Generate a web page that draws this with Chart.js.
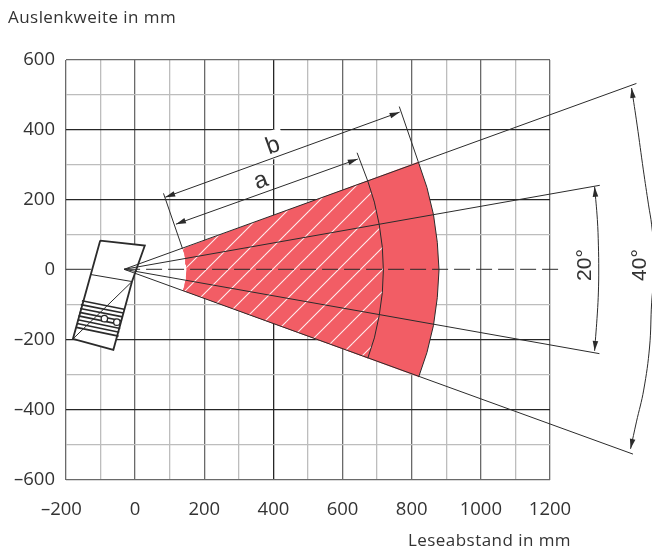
<!DOCTYPE html>
<html>
<head>
<meta charset="utf-8">
<style>
  html, body { margin: 0; padding: 0; background: #fff; }
  canvas { display: block; }
</style>
<script src="https://cdn.jsdelivr.net/npm/chart.js@4"></script>
</head>
<body>
<canvas id="chart" width="652" height="553"></canvas>
<script>
// --- AXES ---
const xTicks = [-200, 0, 200, 400, 600, 800, 1000, 1200];
const xTickLabels = ['–200\u2002', '0', '200', '400', '600', '800', '1000', '1200'];
const yTicks = [-600, -400, -200, 0, 200, 400, 600];
const yTickLabels = ['–600', '–400', '–200', '0', '200', '400', '600'];

// --- READING FIELD (top to bottom along each arc) ---
const outerArcX = [819, 844, 863, 874, 879, 874, 863, 844, 820];
const outerArcY = [309, 236, 158, 79, 0, -79, -158, -236, -306];
const midArcX = [673, 692, 706, 715, 718, 715, 706, 692, 673];
const midArcY = [254, 194, 130, 65, 0, -65, -130, -194, -252];
const innerArcX = [137, 142, 145, 147, 149, 147, 145, 142, 138];
const innerArcY = [61, 47, 31, 16, 0, -16, -31, -47, -59];

// --- OPENING ANGLE LINES ---
const apexX = -32;
const fan40X = [1450, apexX, 1440];
const fan40Y = [533, 2, -526];
const fan20X = [1344, apexX, 1343];
const fan20Y = [242, 2, -239];
const centerX = [apexX, 1230];
const centerY = [2, 2];
const zeroLineX = [-200, -128];
const zeroLineY = [2, 2];

// --- DIMENSIONS a, b ---
const dimLinesX = [82, 137, null, 764, 819, null, 642, 673, null, 87, 765, null, 118, 644];
const dimLinesY = [219, 61, null, 467, 309, null, 335, 254, null, 208, 451, null, 131, 317];
const arc20X = [1329, 1337, 1340, 1341, 1340, 1337, 1329];
const arc20Y = [238, 144, 71, 0, -63, -123, -231];
const arc40X = [1436, 1452, 1470, 1485, 1494, 1503, 1494, 1488, 1471, 1450, 1433];
const arc40Y = [520, 414, 286, 186, 129, 23, -94, -220, -343, -434, -511];

// arrow tips and the screen direction they point at
const arrowX = [87, 765, 118, 644, 1329, 1329, 1436, 1433];
const arrowY = [208, 451, 131, 317, 238, -231, 520, -511];
const arrowDeg = [160, -20, 160, -20, -95, 95, -98, 102];

// --- SENSOR SKETCH ---
const deviceX = [-101, 28, -9, -63, -180, -101];
const deviceY = [84, 70, -33, -228, -197, 84];
const deviceLinesX = [-128, -9, null, -180, -9];
const deviceLinesY = [-13, -33, null, -197, -33];
const ribsX = [-154, -32, null, -157, -34, null, -159, -36, null, -161, -39, null, -164, -41, null, -166, -43, null, -168, -46, null, -170, -48];
const ribsY = [-88, -112, null, -99, -123, null, -110, -134, null, -121, -145, null, -131, -156, null, -142, -167, null, -153, -178, null, -164, -189];
const boltsX = [-89, -53];
const boltsY = [-139, -149];

const RED = '#f25d65';
const INK = '#2b2b2b';
const FONT = '"Open Sans", sans-serif';
const SKETCH_FONT = '"Liberation Sans", sans-serif';

function pts(xs, ys) {
    return xs.map((x, i) => ({ x: x, y: ys[i] }));
}

function line(xs, ys, extra) {
    return Object.assign({
        data: pts(xs, ys),
        showLine: true,
        borderColor: INK,
        borderWidth: 1,
        pointRadius: 0,
        fill: false,
        clip: false
    }, extra);
}

function polygon(xs, ys, color) {
    return line(xs, ys, { borderWidth: 0, backgroundColor: color, fill: 'shape' });
}

// white diagonal stripes of the hatched zone
function makeHatch() {
    const tile = document.createElement('canvas');
    tile.width = 22;
    tile.height = 22;
    const c = tile.getContext('2d');
    c.fillStyle = RED;
    c.fillRect(0, 0, 22, 22);
    c.strokeStyle = '#fff0f0';
    c.lineWidth = 1.1;
    [14, 36].forEach(s => {
        c.beginPath();
        c.moveTo(s + 2, -2);
        c.lineTo(-2, s + 2);
        c.stroke();
    });
    return c.createPattern(tile, 'repeat');
}

const layers = [
    line(zeroLineX, zeroLineY),
    line(deviceX, deviceY, { borderWidth: 1.8, backgroundColor: '#fff', fill: 'shape' }),
    line(deviceLinesX, deviceLinesY),
    line(ribsX, ribsY, { borderWidth: 1.6 }),
    { data: pts(boltsX, boltsY), showLine: false, pointRadius: 3.2, pointBackgroundColor: '#fff', pointBorderColor: INK, pointBorderWidth: 1.3 },
    polygon(outerArcX.concat(innerArcX.slice().reverse()), outerArcY.concat(innerArcY.slice().reverse()), RED),
    polygon(midArcX.concat(innerArcX.slice().reverse()), midArcY.concat(innerArcY.slice().reverse()), makeHatch()),
    line(outerArcX, outerArcY),
    line(midArcX, midArcY),
    line(fan40X, fan40Y),
    line(fan20X, fan20Y),
    line(centerX, centerY, { borderDash: [16, 6] }),
    line(dimLinesX, dimLinesY),
    line(arc20X, arc20Y, { tension: 0.4 }),
    line(arc40X, arc40Y, { tension: 0.4 })
];
layers.forEach((d, i) => { d.order = layers.length - i; });

// --- TEXT AND ARROW OVERLAY ---
const texts = [
    { t: 'Auslenkweite in mm', x: 8, y: 18, size: 17, align: 'left', font: FONT, spacing: '0.45px' },
    { t: 'Leseabstand in mm', x: 408, y: 541, size: 17, align: 'left', font: FONT, spacing: '0.45px' },
    { t: 'a', x: 261, y: 181, size: 24, rot: -20 },
    { t: 'b', x: 273, y: 146, size: 24, rot: -20 },
    { t: '20°', x: 585, y: 265, size: 21, rot: -90 },
    { t: '40°', x: 640, y: 265, size: 21, rot: -90 }
];

const overlay = {
    id: 'overlay',
    beforeDatasetsDraw(chart) {
        const c = chart.ctx;
        c.save();
        c.translate(275, 144);
        c.rotate(-20 * Math.PI / 180);
        c.fillStyle = '#fff';
        c.fillRect(-10, -14, 20, 28);
        c.restore();
    },
    afterDatasetsDraw(chart) {
        const c = chart.ctx;
        const sx = chart.scales.x;
        const sy = chart.scales.y;
        c.save();
        c.fillStyle = INK;
        arrowX.forEach((x, i) => {
            c.save();
            c.translate(sx.getPixelForValue(x), sy.getPixelForValue(arrowY[i]));
            c.rotate(arrowDeg[i] * Math.PI / 180);
            c.beginPath();
            c.moveTo(0, 0);
            c.lineTo(-10, -2.8);
            c.lineTo(-10, 2.8);
            c.closePath();
            c.fill();
            c.restore();
        });
        c.fillStyle = '#333';
        texts.forEach(l => {
            c.save();
            c.translate(l.x, l.y);
            c.rotate((l.rot || 0) * Math.PI / 180);
            c.font = l.size + 'px ' + (l.font || SKETCH_FONT);
            c.letterSpacing = l.spacing || '0px';
            c.textAlign = l.align || 'center';
            c.textBaseline = 'middle';
            c.fillText(l.t, 0, 0);
            c.restore();
        });
        c.restore();
    }
};

function xGrid(ctx) {
    const v = ctx.tick.value;
    if (v === 400) return '#262626';
    if (v % 200 === 0) return '#6a6a6a';
    return '#bdbdbd';
}

function yGrid(ctx) {
    const v = ctx.tick.value;
    if (v === 0) return 'rgba(0,0,0,0)';
    if (v === 600 || v === -600) return '#6a6a6a';
    if (v % 200 === 0) return '#262626';
    return '#bdbdbd';
}

new Chart(document.getElementById('chart'), {
    type: 'scatter',
    data: { datasets: layers },
    plugins: [overlay],
    options: {
        responsive: false,
        animation: false,
        events: [],
        layout: { padding: { top: 60, right: 102, bottom: 0, left: 0 } },
        plugins: { legend: { display: false }, tooltip: { enabled: false }, title: { display: false } },
        scales: {
            x: {
                type: 'linear',
                min: -200,
                max: 1200,
                afterFit(s) { s.height = 73; },
                border: { display: false },
                grid: { color: xGrid, lineWidth: 1.3, drawTicks: false },
                ticks: {
                    stepSize: 100,
                    autoSkip: false,
                    maxRotation: 0,
                    padding: 19,
                    color: '#333',
                    font: { family: FONT, size: 18.5 },
                    callback: v => { const i = xTicks.indexOf(v); return i < 0 ? '' : xTickLabels[i]; }
                }
            },
            y: {
                type: 'linear',
                min: -600,
                max: 600,
                afterFit(s) { s.width = 66; },
                border: { display: false },
                grid: { color: yGrid, lineWidth: 1.3, drawTicks: false },
                ticks: {
                    stepSize: 100,
                    autoSkip: false,
                    padding: 11,
                    color: '#333',
                    font: { family: FONT, size: 18.5 },
                    callback: v => { const i = yTicks.indexOf(v); return i < 0 ? '' : yTickLabels[i]; }
                }
            }
        }
    }
});
</script>
</body>
</html>
